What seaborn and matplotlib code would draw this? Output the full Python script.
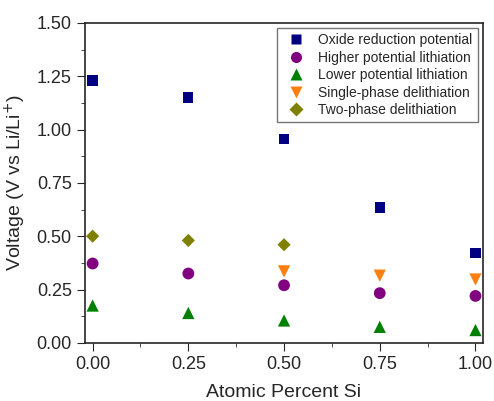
import pandas as pd
import matplotlib.pyplot as plt
import seaborn as sns

# data
si = [0.0, 0.25, 0.5, 0.75, 1.0]
oxide = [1.23, 1.15, 0.957, 0.635, 0.422]
higher = [0.372, 0.325, 0.27, 0.233, 0.22]
lower = [0.175, 0.14, 0.105, 0.075, 0.06]
si_single = [0.5, 0.75, 1.0]
single = [0.335, 0.315, 0.297]
si_two = [0.0, 0.25, 0.5]
two = [0.5, 0.48, 0.46]

names = ["Oxide reduction potential", "Higher potential lithiation",
         "Lower potential lithiation", "Single-phase delithiation",
         "Two-phase delithiation"]

df = pd.concat([
    pd.DataFrame({"x": si, "y": oxide, "series": names[0]}),
    pd.DataFrame({"x": si, "y": higher, "series": names[1]}),
    pd.DataFrame({"x": si, "y": lower, "series": names[2]}),
    pd.DataFrame({"x": si_single, "y": single, "series": names[3]}),
    pd.DataFrame({"x": si_two, "y": two, "series": names[4]}),
])

sns.set_style("ticks")
plt.rcParams['font.family'] = ['Liberation Sans', 'DejaVu Sans']

fig = plt.figure(figsize=(4.94, 4.01), dpi=100)
ax = fig.add_axes([0.172, 0.145, 0.806, 0.798])

colors = ["#000080", "#800080", "#008000", "#FF8010", "#808000"]
markers = ["s", "o", "^", "v", "D"]
sizes = dict(zip(names, [55, 72, 78, 78, 45]))
sns.scatterplot(data=df, x="x", y="y", hue="series", style="series", size="series",
                hue_order=names, style_order=names, size_order=names, sizes=sizes,
                palette=colors, markers=markers, edgecolor="none", ax=ax)

ax.set_xlim(-0.02, 1.02)
ax.set_ylim(0, 1.5)
ax.set_xticks([0, 0.25, 0.5, 0.75, 1.0])
ax.set_yticks([0, 0.25, 0.5, 0.75, 1.0, 1.25, 1.5])
ax.set_xticks([0.125, 0.375, 0.625, 0.875], minor=True)
ax.set_yticks([0.125, 0.375, 0.625, 0.875, 1.125, 1.375], minor=True)
ax.tick_params(which="major", direction="out", length=6, labelsize=13)
ax.tick_params(which="minor", direction="out", length=3)
for sp in ax.spines.values():
    sp.set_linewidth(1.2)

ax.set_xlabel("Atomic Percent Si", fontsize=14, labelpad=8)
ax.set_ylabel("Voltage (V vs Li/Li$^{+}$)", fontsize=14, labelpad=6)

leg = ax.legend(loc="upper right", fontsize=10, frameon=True, fancybox=False,
                edgecolor="#555555", handletextpad=0.6, borderaxespad=0.4,
                labelspacing=0.25, borderpad=0.35)
leg.get_frame().set_linewidth(1.0)
# even out legend marker sizes
for h, ms in zip(leg.legend_handles, [7, 8, 8, 8, 7]):
    if hasattr(h, "set_markersize"):
        h.set_markersize(ms)
    elif hasattr(h, "set_sizes"):
        h.set_sizes([ms ** 2])

fig.savefig("out.png", dpi=100)
